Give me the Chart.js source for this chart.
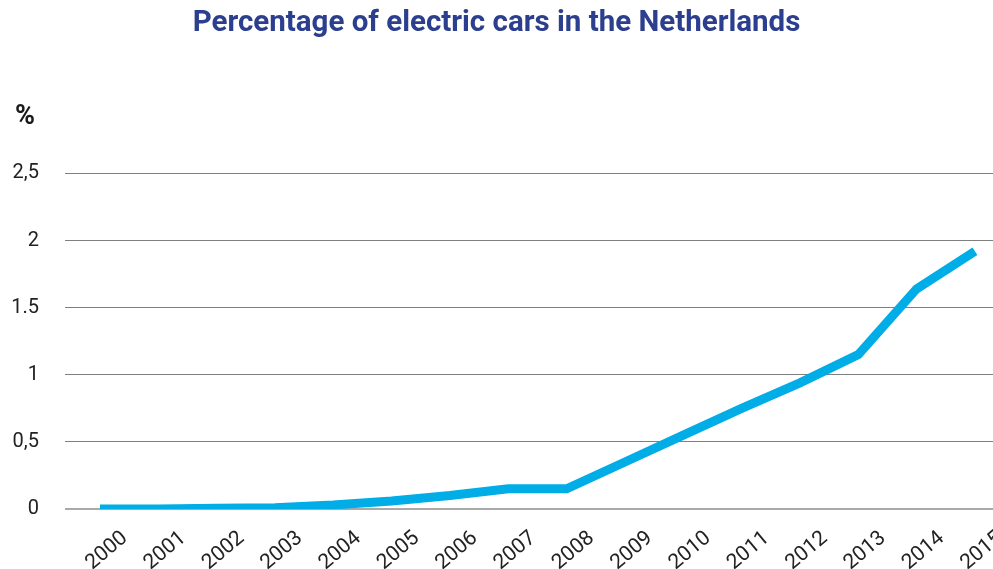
<!DOCTYPE html>
<html>
<head>
<meta charset="utf-8">
<script src="https://cdn.jsdelivr.net/npm/chart.js@4"></script>
<style>
  html, body { margin: 0; padding: 0; background: #fff; }
  #wrap { width: 993px; height: 569px; }
</style>
</head>
<body>
<div id="wrap"><canvas id="myChart"></canvas></div>
<script>
// data
var years = [2000, 2001, 2002, 2003, 2004, 2005, 2006, 2007, 2008, 2009, 2010, 2011, 2012, 2013, 2014, 2015];
var share = [0, 0, 0.005, 0.01, 0.03, 0.06, 0.1, 0.15, 0.15, 0.35, 0.55, 0.75, 0.94, 1.15, 1.64, 1.92];
var yTicks = [0, 0.5, 1, 1.5, 2, 2.5];
var yTickLabels = ['0', '0,5', '1', '1.5', '2', '2,5'];
var unitLabel = '%';

var ctx = document.getElementById('myChart').getContext('2d');

var points = years.map(function (y, i) { return { x: y, y: share[i] }; });

// draws the "%" unit above the y axis labels
var unitPlugin = {
  id: 'unit',
  afterDraw: function (chart) {
    var c = chart.ctx;
    c.save();
    c.font = 'bold 27px Roboto';
    c.fillStyle = '#1a1a1a';
    c.textAlign = 'left';
    c.textBaseline = 'middle';
    c.fillText(unitLabel, 15, 117);
    c.restore();
  }
};

var chart = new Chart(ctx, {
  type: 'line',
  data: {
    datasets: [{
      label: 'Electric cars',
      data: points,
      borderColor: '#00ADE6',
      borderWidth: 9,
      borderCapStyle: 'butt',
      borderJoinStyle: 'miter',
      pointRadius: 0,
      tension: 0,
      fill: false
    }]
  },
  options: {
    responsive: true,
    maintainAspectRatio: false,
    animation: false,
    layout: { padding: { left: 0, right: 0, top: 0, bottom: 0 } },
    plugins: {
      legend: { display: false },
      tooltip: { enabled: false },
      title: {
        display: true,
        text: 'Percentage of electric cars in the Netherlands',
        color: '#2B3F8E',
        font: { family: 'Roboto', size: 29.5, weight: 'bold' },
        padding: { top: 6, bottom: 132 }
      }
    },
    scales: {
      x: {
        type: 'linear',
        min: 1999.4,
        max: 2015.31,
        grid: { display: false },
        border: { display: false },
        ticks: {
          stepSize: 1,
          includeBounds: false,
          autoSkip: false,
          maxRotation: 40,
          minRotation: 40,
          padding: 9,
          labelOffset: 25,
          color: '#222',
          font: { family: 'Roboto', size: 21 },
          callback: function (v) {
            return years.indexOf(v) >= 0 ? String(v) : '';
          }
        },
        afterFit: function (s) { s.height = 60; s.paddingLeft = 0; s.paddingRight = 0; }
      },
      y: {
        min: 0,
        max: 2.5,
        border: { display: false },
        grid: {
          drawTicks: false,
          color: function (c) { return c.tick.value === 0 ? '#a9a9a9' : '#7f7f7f'; },
          lineWidth: function (c) { return c.tick.value === 0 ? 2 : 1; }
        },
        afterBuildTicks: function (s) {
          s.ticks = yTicks.map(function (v) { return { value: v }; });
        },
        ticks: {
          padding: 26,
          color: '#222',
          font: { family: 'Roboto', size: 20 },
          callback: function (v) {
            var i = yTicks.indexOf(v);
            return i >= 0 ? yTickLabels[i] : '';
          }
        },
        afterFit: function (s) { s.width = 65; }
      }
    }
  },
  plugins: [unitPlugin]
});
</script>
</body>
</html>
